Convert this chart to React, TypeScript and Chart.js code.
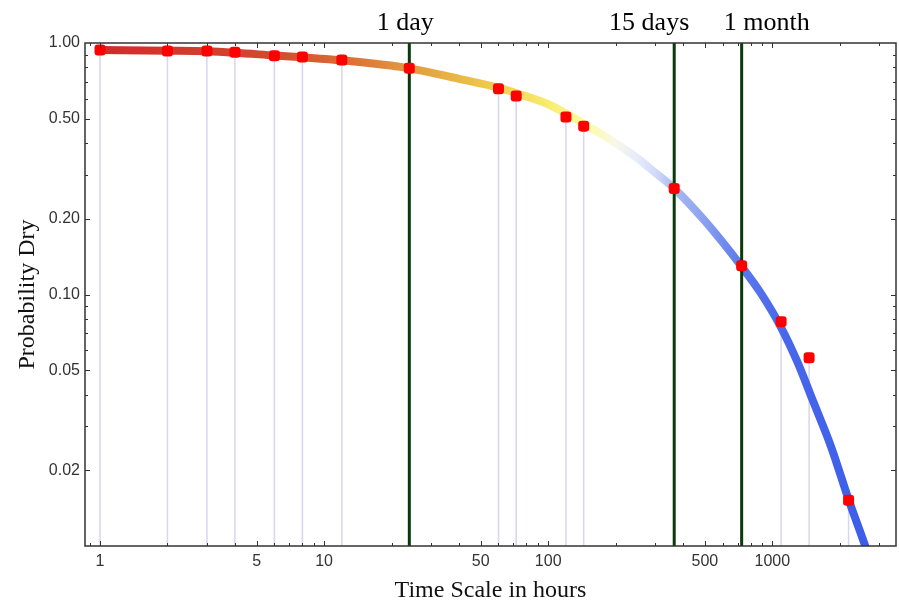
import React, { useEffect, useRef } from 'react';
import { Chart, registerables } from 'chart.js';

Chart.register(...registerables);

// ---- data ----
const pointHours = [1, 2, 3, 4, 6, 8, 12, 24, 60, 72, 120, 144, 365, 730, 1095, 1460, 2190];
const pointProb = [0.938, 0.929, 0.929, 0.918, 0.889, 0.88, 0.856, 0.793, 0.658, 0.615, 0.508, 0.467, 0.264, 0.13, 0.078, 0.056, 0.0152];

const curveHours = [1, 2, 3, 4, 6, 8, 12, 24, 40, 60, 72, 100, 120, 144, 200, 250, 300, 365, 500, 730, 890, 1095, 1290, 1520, 1830, 2190, 2620, 2800];
const curveProb = [0.938, 0.932, 0.927, 0.915, 0.892, 0.877, 0.853, 0.793, 0.72, 0.664, 0.632, 0.571, 0.525, 0.478, 0.4, 0.348, 0.305, 0.264, 0.196, 0.129, 0.101, 0.0739, 0.0543, 0.0377, 0.0248, 0.0153, 0.00978, 0.00814];

const markerHours = [24, 365, 730];
const markerLabels = ['1 day', '15 days', '1 month'];

const xTickLabels = [1, 5, 10, 50, 100, 500, 1000];
const yTickLabels = [1, 0.5, 0.2, 0.1, 0.05, 0.02];

const xMin = 0.857;
const xMax = 3565;
const yMin = 0.01;
const yMax = 1;

// ---- styling ----
const gradientStops: [number, string][] = [
  [1, '#d22a2a'],
  [6, '#d6482f'],
  [12, '#dc6a34'],
  [24, '#e29a40'],
  [40, '#e8b845'],
  [60, '#f0d050'],
  [100, '#f8ec70'],
  [144, '#fcfc9c'],
  [200, '#f8f8e8'],
  [250, '#e6ebfa'],
  [300, '#d2dbf8'],
  [365, '#aabaf2'],
  [500, '#8aa0f0'],
  [730, '#5a78ec'],
  [1095, '#4a68ea'],
  [2800, '#3a5ce8'],
];
const labelOffsets = [-4, -25, 25];
const tickFont = { family: "'Liberation Sans', Arial, sans-serif", size: 16 };
const titleFamily = "'Liberation Serif', 'Times New Roman', serif";

function near(a: number, b: number) {
  return Math.abs(a - b) / b < 1e-6;
}

function logTicks(min: number, max: number) {
  const out: number[] = [];
  for (let e = -3; e <= 4; e++) {
    for (let d = 1; d <= 9; d++) {
      const v = Number((d * Math.pow(10, e)).toPrecision(6));
      if (v >= min * 0.9999 && v <= max * 1.0001) out.push(v);
    }
  }
  return out;
}

function curveGradient(ctx: any) {
  const chart = ctx.chart;
  const { chartArea, scales } = chart;
  if (!chartArea || !scales.x) return gradientStops[0][1];
  const xs = scales.x;
  const x0 = xs.getPixelForValue(gradientStops[0][0]);
  const x1 = xs.getPixelForValue(gradientStops[gradientStops.length - 1][0]);
  const g = chart.ctx.createLinearGradient(x0, 0, x1, 0);
  for (const [h, c] of gradientStops) {
    const f = (xs.getPixelForValue(h) - x0) / (x1 - x0);
    g.addColorStop(Math.min(1, Math.max(0, f)), c);
  }
  return g;
}

const frameTicksPlugin = {
  id: 'frameTicks',
  afterDatasetsDraw(chart: any) {
    const { ctx, chartArea, scales } = chart;
    const { left, right, top, bottom } = chartArea;
    ctx.save();
    ctx.strokeStyle = '#333';
    ctx.lineWidth = 1.5;
    ctx.strokeRect(left, top, right - left, bottom - top);
    ctx.lineWidth = 1;
    ctx.beginPath();
    for (const t of scales.x.ticks) {
      const px = Math.round(scales.x.getPixelForValue(t.value)) + 0.5;
      if (px < left + 1 || px > right - 1) continue;
      const len = xTickLabels.some((v) => near(t.value, v)) ? 5 : 3;
      ctx.moveTo(px, bottom);
      ctx.lineTo(px, bottom - len);
      ctx.moveTo(px, top);
      ctx.lineTo(px, top + len);
    }
    for (const t of scales.y.ticks) {
      const py = Math.round(scales.y.getPixelForValue(t.value)) + 0.5;
      if (py < top + 1 || py > bottom - 1) continue;
      const len = yTickLabels.some((v) => near(t.value, v)) ? 5 : 3;
      ctx.moveTo(left, py);
      ctx.lineTo(left + len, py);
      ctx.moveTo(right, py);
      ctx.lineTo(right - len, py);
    }
    ctx.stroke();
    // labels for the marker lines
    ctx.fillStyle = '#000';
    ctx.font = `26px ${titleFamily}`;
    ctx.textAlign = 'center';
    ctx.textBaseline = 'alphabetic';
    markerHours.forEach((h, i) => {
      const px = scales.x.getPixelForValue(h);
      ctx.fillText(markerLabels[i], px + labelOffsets[i], 30);
    });
    ctx.restore();
  },
};

export default function App() {
  const ref = useRef<HTMLCanvasElement>(null);

  useEffect(() => {
    if (!ref.current) return;
    const dropData: any[] = [];
    pointHours.forEach((h, i) => {
      dropData.push({ x: h, y: yMin }, { x: h, y: pointProb[i] }, { x: h, y: null });
    });
    const markerData: any[] = [];
    markerHours.forEach((h) => {
      markerData.push({ x: h, y: yMin }, { x: h, y: yMax }, { x: h, y: null });
    });

    const chart = new Chart(ref.current, {
      type: 'line',
      data: {
        datasets: [
          {
            label: 'points',
            data: pointHours.map((h, i) => ({ x: h, y: pointProb[i] })),
            showLine: false,
            pointStyle: 'rectRounded',
            pointRadius: 6.4,
            pointBackgroundColor: '#ff0000',
            pointBorderWidth: 0,
            order: 0,
          } as any,
          {
            label: 'markers',
            data: markerData,
            borderColor: '#0a3a0a',
            borderWidth: 3,
            pointRadius: 0,
            spanGaps: false,
            clip: false,
            order: 1,
          } as any,
          {
            label: 'curve',
            data: curveHours.map((h, i) => ({ x: h, y: curveProb[i] })),
            borderColor: curveGradient,
            borderWidth: 8,
            pointRadius: 0,
            cubicInterpolationMode: 'monotone',
            borderCapStyle: 'butt',
            borderJoinStyle: 'round',
            clip: 0,
            order: 2,
          } as any,
          {
            label: 'drops',
            data: dropData,
            borderColor: '#d6d6ee',
            borderWidth: 1.5,
            pointRadius: 0,
            spanGaps: false,
            order: 3,
          } as any,
        ],
      },
      options: {
        animation: false,
        responsive: false,
        devicePixelRatio: 1,
        events: [],
        layout: { autoPadding: false, padding: { top: 43, right: 3, left: 0, bottom: 0 } },
        plugins: {
          legend: { display: false },
          tooltip: { enabled: false },
        },
        scales: {
          x: {
            type: 'logarithmic',
            min: xMin,
            max: xMax,
            grid: { display: false, drawTicks: false },
            border: { display: false },
            ticks: {
              autoSkip: false,
              maxRotation: 0,
              padding: 6,
              color: '#333',
              font: tickFont,
              callback: (v: any) => {
                const n = Number(v);
                return xTickLabels.some((t) => near(n, t)) ? String(n) : '';
              },
            },
            afterBuildTicks: (s: any) => {
              s.ticks = logTicks(xMin, xMax).map((v) => ({ value: v }));
            },
            afterFit: (s: any) => {
              s.height = 59;
              s.paddingLeft = 0;
              s.paddingRight = 0;
            },
            title: {
              display: true,
              text: 'Time Scale in hours',
              color: '#111',
              font: { family: titleFamily, size: 24 },
              padding: { top: 0, bottom: 0 },
            },
          } as any,
          y: {
            type: 'logarithmic',
            min: yMin,
            max: yMax,
            grid: { display: false, drawTicks: false },
            border: { display: false },
            ticks: {
              autoSkip: false,
              padding: 5,
              color: '#333',
              font: tickFont,
              callback: (v: any) => {
                const n = Number(v);
                return yTickLabels.some((t) => near(n, t)) ? n.toFixed(2) : '';
              },
            },
            afterBuildTicks: (s: any) => {
              s.ticks = logTicks(yMin, yMax).map((v) => ({ value: v }));
            },
            afterFit: (s: any) => {
              s.width = 85;
              s.paddingTop = 0;
              s.paddingBottom = 0;
            },
            title: {
              display: true,
              text: 'Probability Dry',
              color: '#111',
              font: { family: titleFamily, size: 24 },
              padding: { top: 13, bottom: 0 },
            },
          } as any,
        },
      },
      plugins: [frameTicksPlugin],
    });
    return () => chart.destroy();
  }, []);

  return (
    <div style={{ position: 'fixed', left: 0, top: 0, width: 899, height: 605, background: '#fff' }}>
      <canvas ref={ref} width={899} height={605} style={{ width: 899, height: 605, display: 'block' }} />
    </div>
  );
}
